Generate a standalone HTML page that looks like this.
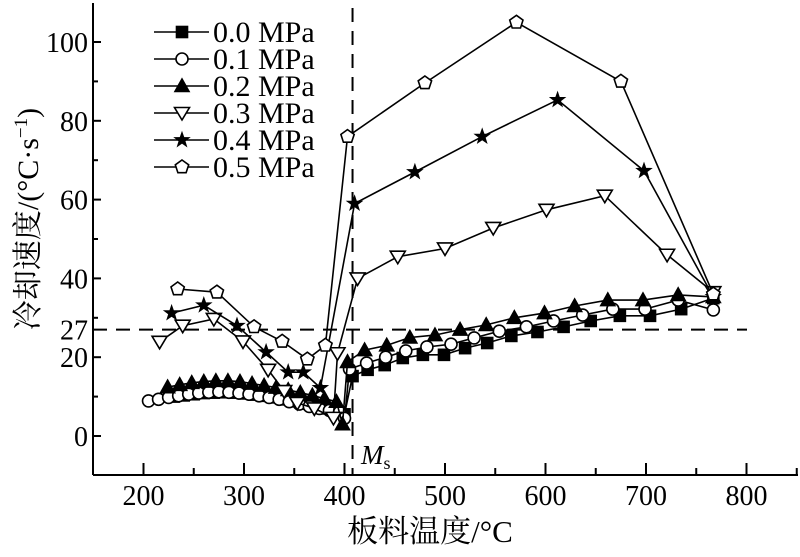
<!DOCTYPE html>
<html><head><meta charset="utf-8"><style>
body{margin:0;background:#fff}
svg text{font-family:"Liberation Serif","Noto Serif CJK SC",serif;fill:#000}
</style></head><body>
<svg id="chart" width="800" height="552" viewBox="0 0 800 552" xmlns="http://www.w3.org/2000/svg">
<g id="axes"></g>
<g id="series"></g>
<g id="legend"></g>
<text transform="translate(38,219) rotate(-90)" text-anchor="middle" font-size="30">冷却速度/(°C·s<tspan dy="-11" font-size="19">−1</tspan><tspan dy="11">)</tspan></text>
<text x="430" y="542" text-anchor="middle" font-size="31">板料温度/°C</text>
<text x="361" y="464" font-size="27" font-style="italic">M<tspan font-style="normal" font-size="18" dy="5">s</tspan></text>
</svg>
<script>
const xTicks=[200,300,400,500,600,700,800];
const yTicks=[0,20,27,40,60,80,100];
const seriesNames=["0.0 MPa","0.1 MPa","0.2 MPa","0.3 MPa","0.4 MPa","0.5 MPa"];
const markers=["square","circle","triangle","tridown","star","pentagon"];
const x00=[230,240,250,260,270,280,290,300,310,320,330,340,350,360,370,380,390,395,400,408,423,440,458,478,499,520,542,566,592,618,645,674,704,735,767];
const y00=[10,10.3,10.6,10.9,11,11.1,11,10.8,10.5,10.2,9.8,9.3,8.8,8.2,7.6,7,6.5,6,5.5,15.2,16.8,18,19.8,20.6,20.6,22.3,23.6,25.4,26.4,27.7,29.2,30.5,30.5,32.2,35];
const x01=[205,215,225,235,245,255,265,275,285,295,305,315,325,335,345,355,365,375,385,395,400,405,422,441,461,482,506,529,554,581,608,637,667,699,732,767];
const y01=[8.9,9.3,9.8,10.2,10.6,10.9,11.1,11.2,11.1,10.9,10.6,10.2,9.8,9.3,8.7,8.1,7.5,7,6.5,6,4.5,17,18.5,20,21.6,22.6,23.3,24.9,26.6,27.7,29.2,30.7,32.2,32.2,34.5,32];
const x02=[224,236,248,260,272,284,296,308,320,332,344,356,368,380,392,398,403,420,442,465,490,515,541,569,599,629,662,697,732,767];
const y02=[12.4,13,13.5,13.8,14,14,13.8,13.3,12.8,12.3,11.7,11,10.3,9.5,8.7,3,18.8,21.8,23,25,25.6,27,28.2,30,31.2,33,34.5,34.5,35.8,35.3];
const x03=[216,239,270,299,324,340,353,370,389,393,413,453,500,548,601,659,721,767];
const y03=[23.9,28,29.7,24,16.8,11.4,8.4,7,4.6,21,40,45.5,47.6,52.8,57.4,61,46,36.5];
const x04=[228,260,293,322,344,359,376,410,470,537,612,698,767];
const y04=[31.2,33.2,28,21.3,16.2,16.2,12.2,59,67,76,85.3,67.3,35.3];
const x05=[234,273,310,338,363,381,403,480,571,675,767];
const y05=[37.3,36.5,27.7,24,19.5,23,76,89.6,105,90,36];
const seriesX=[x00,x01,x02,x03,x04,x05];
const seriesY=[y00,y01,y02,y03,y04,y05];
const NS="http://www.w3.org/2000/svg";
const X0=93,X1=798,Y0=475,Y1=3;
function sx(v){return 445+(v-500)*1.005;}
function sy(v){return 436-v*3.94;}
function mk(tag,attrs,parent){const e=document.createElementNS(NS,tag);for(const k in attrs)e.setAttribute(k,attrs[k]);parent.appendChild(e);return e;}
const axes=document.getElementById('axes');
let l=mk('line',{x1:X0,y1:Y1,x2:X0,y2:Y0,stroke:'#000','stroke-width':2},axes);


l=mk('line',{x1:X0,y1:Y0,x2:X1,y2:Y0,stroke:'#000','stroke-width':2},axes);


for(let v=150;v<=850;v+=50){const px=sx(v);if(px<X0+1||px>X1)continue;const major=v%100===0;
 l=mk('line',{x1:px,y1:Y0,x2:px,y2:Y0-(major?12:7),stroke:'#000','stroke-width':2},axes);
 
 }
xTicks.forEach(v=>{const t=mk('text',{x:sx(v),y:505,'text-anchor':'middle','font-size':28},axes);t.textContent=v;
 
 });
for(let v=-10;v<=110;v+=10){const py=sy(v);if(py<Y1||py>Y0-1)continue;const major=v%20===0;
 l=mk('line',{x1:X0,y1:py,x2:X0+(major?8:5),y2:py,stroke:'#000','stroke-width':2},axes);
 
 }
yTicks.forEach(v=>{const t=mk('text',{x:88,y:sy(v)+10,'text-anchor':'end','font-size':28},axes);t.textContent=v;
 
 });
l=mk('line',{x1:X0,y1:sy(27),x2:747,y2:sy(27),stroke:'#000','stroke-width':2,'stroke-dasharray':'14,9'},axes);


l=mk('line',{x1:sx(408),y1:Y1+5,x2:sx(408),y2:Y0,stroke:'#000','stroke-width':2,'stroke-dasharray':'14,9'},axes);


function marker(type,cx,cy,parent){
 const a={stroke:'#000','stroke-width':1.6};let e;
 if(type==='square'){e=mk('rect',Object.assign({x:cx-5.5,y:cy-5.5,width:11,height:11,fill:'#000'},a),parent);}
 else if(type==='circle'){e=mk('circle',Object.assign({cx:cx,cy:cy,r:6,fill:'#fff'},a),parent);}
 else if(type==='triangle'){e=mk('polygon',Object.assign({points:`${cx},${cy-7} ${cx-7},${cy+5.5} ${cx+7},${cy+5.5}`,fill:'#000'},a),parent);}
 else if(type==='tridown'){e=mk('polygon',Object.assign({points:`${cx-7.5},${cy-5.5} ${cx+7.5},${cy-5.5} ${cx},${cy+7}`,fill:'#fff'},a),parent);}
 else if(type==='star'){let p=[];for(let i=0;i<10;i++){const r=i%2?3.2:8,an=-Math.PI/2+i*Math.PI/5;p.push((cx+r*Math.cos(an)).toFixed(1)+','+(cy+r*Math.sin(an)).toFixed(1));}
  e=mk('polygon',{points:p.join(' '),fill:'#000',stroke:'#000','stroke-width':0.8},parent);}
 else {let p=[];for(let i=0;i<5;i++){const an=-Math.PI/2+i*2*Math.PI/5;p.push((cx+7*Math.cos(an)).toFixed(1)+','+(cy+7*Math.sin(an)).toFixed(1));}
  e=mk('polygon',Object.assign({points:p.join(' '),fill:'#fff'},a),parent);}
 return e;}
const sg=document.getElementById('series');
seriesX.forEach((xs,i)=>{
 const g=mk('g',{},sg);
 
 
 const pts=xs.map((x,j)=>sx(x).toFixed(1)+','+sy(seriesY[i][j]).toFixed(1)).join(' ');
 const pl=mk('polyline',{points:pts,fill:'none',stroke:'#000','stroke-width':1.6},g);
 
 
 xs.forEach((x,j)=>{const m=marker(markers[i],sx(x),sy(seriesY[i][j]),g);
  
  });
});
const lg=document.getElementById('legend');
seriesNames.forEach((n,i)=>{
 const y=32+i*27;
 const g=mk('g',{},lg);
 
 
 mk('line',{x1:154,y1:y,x2:209,y2:y,stroke:'#000','stroke-width':1.6},g);
 marker(markers[i],182,y,g);
 const t=mk('text',{x:213,y:y+10,'font-size':30},g);t.textContent=n;
});
</script>
</body></html>
